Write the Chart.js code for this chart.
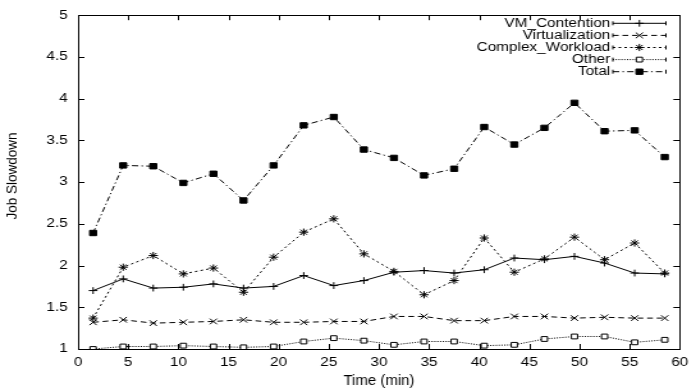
<!DOCTYPE html>
<html>
<head>
<meta charset="utf-8">
<script src="https://cdn.jsdelivr.net/npm/chart.js@4/dist/chart.umd.min.js"></script>
<style>
    html, body { margin: 0; padding: 0; background: #fff; }
</style>
</head>
<body>
<!-- drawn narrower and widened by css, like the stretched plot it copies -->
<canvas id="slowdownChart" width="544" height="390" style="display:block;width:696px;height:390px"></canvas>
<script>
const times = [1.5, 4.5, 7.5, 10.5, 13.5, 16.5, 19.5, 22.5, 25.5, 28.5, 31.5, 34.5, 37.5, 40.5, 43.5, 46.5, 49.5, 52.5, 55.5, 58.5];
const vmContention = [1.70, 1.84, 1.73, 1.74, 1.78, 1.73, 1.75, 1.88, 1.76, 1.82, 1.92, 1.94, 1.91, 1.95, 2.09, 2.07, 2.11, 2.03, 1.91, 1.90];
const virtualization = [1.32, 1.35, 1.31, 1.32, 1.33, 1.35, 1.32, 1.32, 1.33, 1.33, 1.39, 1.39, 1.34, 1.34, 1.39, 1.39, 1.37, 1.38, 1.37, 1.37];
const complexWorkload = [1.37, 1.98, 2.12, 1.90, 1.97, 1.68, 2.10, 2.40, 2.56, 2.14, 1.93, 1.65, 1.82, 2.33, 1.92, 2.08, 2.34, 2.07, 2.27, 1.91];
const other = [1.00, 1.03, 1.03, 1.04, 1.03, 1.02, 1.03, 1.09, 1.13, 1.10, 1.05, 1.09, 1.09, 1.04, 1.05, 1.12, 1.15, 1.15, 1.08, 1.11];
const total = [2.39, 3.20, 3.19, 2.99, 3.10, 2.78, 3.20, 3.68, 3.78, 3.39, 3.29, 3.08, 3.16, 3.66, 3.45, 3.65, 3.95, 3.61, 3.62, 3.30];

const xTicks = [0, 5, 10, 15, 20, 25, 30, 35, 40, 45, 50, 55, 60];
const yTicks = [1, 1.5, 2, 2.5, 3, 3.5, 4, 4.5, 5];

const STRETCH = 696 / 544;
const FONT = '"Liberation Sans", Arial, Helvetica, sans-serif';

Chart.defaults.font.family = FONT;
Chart.defaults.font.size = 12;
Chart.defaults.color = '#000';

function series(label, values, dash, pointStyle, radius, fill) {
    return {
        label: label,
        data: values.map((v, i) => ({ x: times[i], y: v })),
        borderColor: '#000',
        borderWidth: 1,
        borderDash: dash,
        pointStyle: pointStyle,
        pointRadius: radius,
        pointBorderWidth: 1,
        pointBorderColor: '#000',
        pointBackgroundColor: fill,
        tension: 0
    };
}

// gnuplot-ish frame: closed border with inward ticks on every side
const framePlugin = {
    id: 'frame',
    afterDatasetsDraw(chart) {
        const { ctx, chartArea: a, scales } = chart;
        ctx.save();
        ctx.strokeStyle = '#000';
        ctx.lineWidth = 1;
        ctx.setLineDash([]);
        ctx.beginPath();
        xTicks.forEach(v => {
            const px = Math.round(scales.x.getPixelForValue(v)) + 0.5;
            ctx.moveTo(px, a.bottom); ctx.lineTo(px, a.bottom - 5);
            ctx.moveTo(px, a.top); ctx.lineTo(px, a.top + 5);
        });
        yTicks.forEach(v => {
            const py = Math.round(scales.y.getPixelForValue(v)) + 0.5;
            ctx.moveTo(a.left, py); ctx.lineTo(a.left + 5, py);
            ctx.moveTo(a.right, py); ctx.lineTo(a.right - 5, py);
        });
        ctx.stroke();
        ctx.strokeRect(Math.round(a.left) + 0.5, Math.round(a.top) + 0.5,
            Math.round(a.right - a.left), Math.round(a.bottom - a.top));
        ctx.restore();
    }
};

// key in the top right corner: label, then a line sample with its marker
const keyPlugin = {
    id: 'key',
    afterDraw(chart) {
        const { ctx } = chart;
        const textRight = 477, x0 = 479, x1 = 520.5, top = 23.3, step = 12.1;
        ctx.save();
        chart.data.datasets.forEach((ds, i) => {
            const y = top + i * step;
            ctx.font = '12px ' + FONT;
            ctx.fillStyle = '#000';
            ctx.textAlign = 'right';
            ctx.textBaseline = 'middle';
            ctx.fillText(ds.label, textRight, y);

            ctx.strokeStyle = '#000';
            ctx.lineWidth = 1;
            ctx.setLineDash(ds.borderDash);
            ctx.beginPath();
            ctx.moveTo(x0, y); ctx.lineTo(x1, y);
            ctx.stroke();
            ctx.setLineDash([]);
            ctx.beginPath();
            ctx.moveTo(x0, y - 2); ctx.lineTo(x0, y + 2);
            ctx.moveTo(x1, y - 2); ctx.lineTo(x1, y + 2);
            ctx.stroke();

            ctx.fillStyle = ds.pointBackgroundColor;
            Chart.helpers.drawPoint(ctx, {
                pointStyle: ds.pointStyle,
                radius: ds.pointRadius,
                rotation: 0,
                borderWidth: 1
            }, (x0 + x1) / 2, y);
        });
        ctx.restore();
    }
};

// axis titles drawn un-stretched
const titlePlugin = {
    id: 'titles',
    afterDraw(chart) {
        const { ctx, chartArea: a } = chart;
        ctx.save();
        ctx.fillStyle = '#000';
        ctx.textAlign = 'center';
        ctx.textBaseline = 'middle';

        ctx.save();
        ctx.translate((a.left + a.right) / 2, 381);
        ctx.scale(1 / STRETCH, 1);
        ctx.font = '15px ' + FONT;
        ctx.fillText('Time (min)', 0, 0);
        ctx.restore();

        ctx.save();
        ctx.translate(9.6, 176);
        ctx.scale(1 / STRETCH, 1);
        ctx.rotate(-Math.PI / 2);
        ctx.font = '13.5px ' + FONT;
        ctx.fillText('Job Slowdown', 0, 0);
        ctx.restore();

        ctx.restore();
    }
};

const ctx = document.getElementById('slowdownChart').getContext('2d');
new Chart(ctx, {
    type: 'line',
    data: {
        datasets: [
            series('VM_Contention', vmContention, [], 'cross', 3.4, '#000'),
            series('Virtualization', virtualization, [4.5, 3], 'crossRot', 4, '#000'),
            series('Complex_Workload', complexWorkload, [2, 2.5], 'star', 3.6, '#000'),
            series('Other', other, [1, 1.2], 'rect', 3.4, '#fff'),
            series('Total', total, [5, 2.5, 1.2, 2.5], 'rect', 3.8, '#000')
        ]
    },
    options: {
        responsive: false,
        devicePixelRatio: 1,
        animation: false,
        layout: { padding: { top: 11, right: 10, bottom: 0, left: 0 } },
        plugins: {
            legend: { display: false },
            tooltip: { enabled: false }
        },
        scales: {
            x: {
                type: 'linear',
                min: 0,
                max: 60,
                afterBuildTicks: (scale) => { scale.ticks = xTicks.map(v => ({ value: v })); },
                afterFit: (scale) => { scale.height = 41; },
                grid: { display: false, drawTicks: false },
                border: { display: false },
                ticks: { padding: 6, maxRotation: 0, autoSkip: false, callback: (v) => String(v) }
            },
            y: {
                type: 'linear',
                min: 1,
                max: 5,
                afterBuildTicks: (scale) => { scale.ticks = yTicks.map(v => ({ value: v })); },
                afterFit: (scale) => { scale.width = 61; },
                grid: { display: false, drawTicks: false },
                border: { display: false },
                ticks: { padding: 8, autoSkip: false, callback: (v) => String(v) }
            }
        }
    },
    plugins: [framePlugin, keyPlugin, titlePlugin]
});
</script>
</body>
</html>
